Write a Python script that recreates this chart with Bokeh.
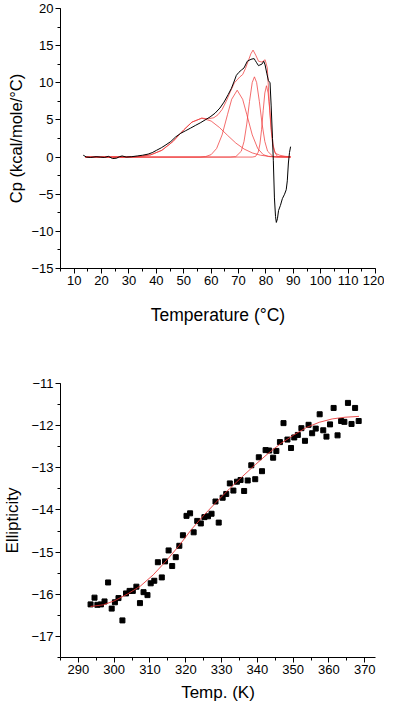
from bokeh.plotting import figure
from bokeh.layouts import column
from bokeh.models import FixedTicker, Range1d
from bokeh.embed import file_html
from bokeh.resources import INLINE

# ---------------- top panel: DSC ----------------
dsc_T = [13.3, 14.5, 16, 18, 19.5, 21, 22.5, 24, 25.5, 26.5, 27.5, 29, 31, 33, 35, 37,
         38.5, 40, 41.8, 43.5, 45.3, 47, 48.9, 50.7, 52.5, 54.2, 56, 57.8, 59.6, 61.4,
         63.2, 64.7, 66.2, 67.4, 68.3, 69.2, 70.1, 71, 72, 73.2, 74.2, 74.9, 75.7, 76.1,
         76.6, 77.3, 77.8, 78.5, 79.2, 79.7, 80.3, 80.9, 81.5, 81.9, 82.4, 82.7, 83.1,
         83.5, 83.8, 84.2, 84.6, 85.3, 86.0, 86.8, 87.4, 87.8, 88.2, 88.6, 89.0]
dsc_Cp = [0.25, 0.0, -0.05, 0.05, 0.0, -0.05, 0.1, -0.2, -0.15, 0.05, 0.15, 0.0, 0.05, 0.15, 0.25, 0.4,
          0.6, 0.9, 1.25, 1.65, 2.1, 2.7, 3.2, 3.55, 3.9, 4.25, 4.6, 5.0, 5.4, 5.9,
          6.6, 7.4, 8.4, 9.25, 10.1, 11.0, 11.4, 11.7, 12.0, 12.9, 13.1, 13.2, 13.25, 13.0,
          12.7, 12.3, 12.4, 12.5, 12.9, 12.4, 11.3, 10.3, 10.0, 7.0, 2.5, -0.5, -5.5,
          -8.0, -8.8, -8.3, -7.2, -6.5, -5.6, -5.0, -4.4, -3.2, -0.8, 0.6, 1.4]

comp1_T = [14, 26, 30, 34, 38, 42, 46, 50, 53, 56.6, 60, 63, 66, 69, 72, 75, 78, 81, 84, 89]
comp1_Cp = [0, 0.0, 0.02, 0.08, 0.31, 0.91, 2.08, 3.66, 4.71, 5.24, 4.85, 3.99, 2.92, 1.89,
            1.09, 0.56, 0.25, 0.10, 0.04, 0.01]

comp2_T = [14, 56, 58, 60, 62, 64, 66, 67.5, 69.5, 71.5, 73, 75, 77, 79, 81, 83, 89]
comp2_Cp = [0, 0, 0.07, 0.33, 1.16, 2.99, 5.76, 7.78, 9.0, 7.78, 5.76, 2.99, 1.16, 0.33, 0.07, 0.01, 0]

comp3_T = [14, 67, 69, 71, 72, 73, 74, 75, 75.8, 76.6, 77.6, 78.6, 79.6, 80.6, 82.6, 84, 89]
comp3_Cp = [0, 0, 0.06, 0.79, 2.10, 4.44, 7.48, 10.04, 10.8, 10.04, 7.48, 4.44, 2.10, 0.79, 0.06, 0, 0]

comp4_T = [14, 75, 76.2, 77.2, 77.8, 78.4, 79.0, 79.6, 80.2, 80.8, 81.4, 82.0, 82.6, 83.2, 84.2, 89]
comp4_Cp = [0, 0, 0.08, 0.67, 1.75, 3.68, 6.27, 8.63, 9.6, 8.63, 6.27, 3.68, 1.75, 0.67, 0.08, 0]

env_T = [14, 30, 34, 38, 42, 46, 50, 53, 56.6, 59, 61, 62.5, 64, 65.5, 67, 68.5, 69.5, 70.5,
         71.5, 72.5, 73.5, 74.5, 75.3, 76.3, 77.3, 78.5, 79.7, 80.5, 81.2, 81.8, 82.5, 83.5,
         85, 87, 89]
env_Cp = [0, 0.02, 0.08, 0.31, 0.91, 2.08, 3.66, 4.71, 5.24, 5.15, 5.3, 5.7, 6.4, 7.5, 8.8,
          10.0, 10.4, 10.8, 11.1, 11.9, 12.9, 13.9, 14.4, 13.7, 12.9, 12.8, 13.1, 12.0, 7.5,
          4.0, 1.5, 0.5, 0.25, 0.1, 0.05]

top_xticks = list(range(10, 121, 10))
top_xminor = list(range(5, 121, 5))
top_yticks = [-15, -10, -5, 0, 5, 10, 15, 20]
top_yminor = [-15 + 2.5 * i for i in range(15)]

# ---------------- bottom panel: ellipticity ----------------
temp_K = [293.4, 294.5, 295.3, 296.3, 297.3, 298.3, 299.3, 300.2, 301.2, 302.3,
          303.3, 304.3, 305.2, 306.2, 307.2, 308.2, 309.3, 310.2, 311.2, 312.2,
          313.3, 314.2, 315.2, 316.2, 317.2, 318.2, 319.2, 320.2, 321.2, 322.2,
          323.2, 324.2, 325.2, 326.2, 327.2, 328.3, 329.2, 330.3, 331.3, 332.3,
          333.3, 334.3, 335.3, 336.3, 337.3, 338.3, 339.4, 340.4, 341.3, 342.3,
          343.3, 344.4, 345.3, 346.3, 347.3, 348.4, 349.4, 350.3, 351.3, 352.3,
          353.3, 354.3, 355.3, 356.3, 357.4, 358.4, 359.3, 360.3, 361.3, 362.4,
          363.4, 364.3, 365.3, 366.3, 367.3, 368.3]
ellip = [-16.24, -16.08, -16.25, -16.24, -16.17, -15.72, -16.34, -16.19, -16.09, -16.62,
         -15.98, -15.92, -15.92, -15.82, -16.21, -15.95, -16.02, -15.74, -15.68, -15.24,
         -15.60, -15.22, -14.96, -15.33, -15.12, -14.85, -14.60, -14.14, -14.08, -14.53,
         -14.26, -14.32, -14.17, -14.15, -14.09, -13.80, -14.30, -13.71, -13.62, -13.37,
         -13.54, -13.33, -13.29, -13.55, -13.30, -12.94, -13.27, -12.75, -13.08, -12.58,
         -12.59, -12.76, -12.60, -12.39, -11.94, -12.33, -12.53, -12.28, -12.22, -12.06,
         -12.36, -11.98, -12.18, -12.07, -11.73, -12.11, -12.26, -11.97, -11.58, -12.23,
         -11.89, -11.91, -11.46, -11.96, -11.58, -11.89]

fit_K = [293.4, 297.0, 300.2, 303.8, 307.4, 310.9, 314.5, 318.1, 321.6, 325.2, 328.8,
         332.3, 335.9, 339.5, 343.0, 346.6, 350.2, 353.8, 357.3, 360.9, 364.5, 368.4]
fit_E = [-16.29, -16.25, -16.15, -15.99, -15.80, -15.54, -15.21, -14.85, -14.46, -14.11,
         -13.79, -13.49, -13.20, -12.92, -12.66, -12.42, -12.22, -12.04, -11.92, -11.84,
         -11.80, -11.78]

bot_xticks = list(range(290, 371, 10))
bot_xminor = list(range(285, 376, 5))
bot_yticks = [-17, -16, -15, -14, -13, -12, -11]
bot_yminor = [-17.5 + 0.5 * i for i in range(14)]

FONT = "Liberation Sans"


def style(p, xt, xm, yt, ym, xlab, ylab, xlab_size="17px", ylab_size="17px", ystand=4, xstand=4):
    p.xaxis.ticker = FixedTicker(ticks=xt, minor_ticks=xm)
    p.yaxis.ticker = FixedTicker(ticks=yt, minor_ticks=ym)
    p.xaxis.axis_label = xlab
    p.yaxis.axis_label = ylab
    p.xgrid.visible = False
    p.ygrid.visible = False
    p.outline_line_color = None
    p.background_fill_color = "white"
    p.border_fill_color = "white"
    for ax in (p.xaxis[0], p.yaxis[0]):
        ax.axis_line_color = "black"
        ax.axis_line_width = 1
        ax.major_tick_line_color = "black"
        ax.minor_tick_line_color = "black"
        ax.major_tick_out = 5
        ax.major_tick_in = 0
        ax.minor_tick_out = 3
        ax.minor_tick_in = 0
        ax.major_label_standoff = 2
        ax.major_label_text_font = FONT
        ax.major_label_text_font_size = "13px"
        ax.major_label_text_color = "black"
        ax.axis_label_text_font = FONT
        ax.axis_label_text_font_style = "normal"
        ax.axis_label_text_color = "black"
    p.xaxis[0].axis_label_text_font_size = xlab_size
    p.yaxis[0].axis_label_text_font_size = ylab_size
    p.yaxis[0].axis_label_standoff = ystand
    p.xaxis[0].axis_label_standoff = xstand


p1 = figure(width=384, height=330, output_backend="svg", toolbar_location=None,
            x_range=Range1d(5, 120), y_range=Range1d(-15, 20),
            min_border_left=52, min_border_right=9, min_border_top=8, min_border_bottom=62)
style(p1, top_xticks, top_xminor, top_yticks, top_yminor,
      "Temperature (°C)", "Cp (kcal/mole/°C)", xlab_size="17.5px", ylab_size="16.5px",
      ystand=3, xstand=17)

red = "#f03c3c"
for tx, cy in ((comp1_T, comp1_Cp), (comp2_T, comp2_Cp), (comp3_T, comp3_Cp),
               (comp4_T, comp4_Cp), (env_T, env_Cp)):
    p1.line(tx, cy, line_color=red, line_width=1, line_alpha=0.75)
p1.line(dsc_T, dsc_Cp, line_color="black", line_width=1, line_join="round")

p2 = figure(width=384, height=374, output_backend="svg", toolbar_location=None,
            x_range=Range1d(285, 373), y_range=Range1d(-17.5, -11),
            min_border_left=55, min_border_right=0, min_border_top=53, min_border_bottom=46)
style(p2, bot_xticks, bot_xminor, bot_yticks, bot_yminor,
      "Temp. (K)", "Ellipticity", xlab_size="17px", ylab_size="17px", ystand=6, xstand=6)

p2.scatter(temp_K, ellip, marker="square", size=5, fill_color="black", line_color="black")
p2.line(fit_K, fit_E, line_color="#e83030", line_width=1, line_alpha=0.85)

layout = column(p1, p2, spacing=0)
open("out.html", "w").write(file_html(layout, INLINE))
